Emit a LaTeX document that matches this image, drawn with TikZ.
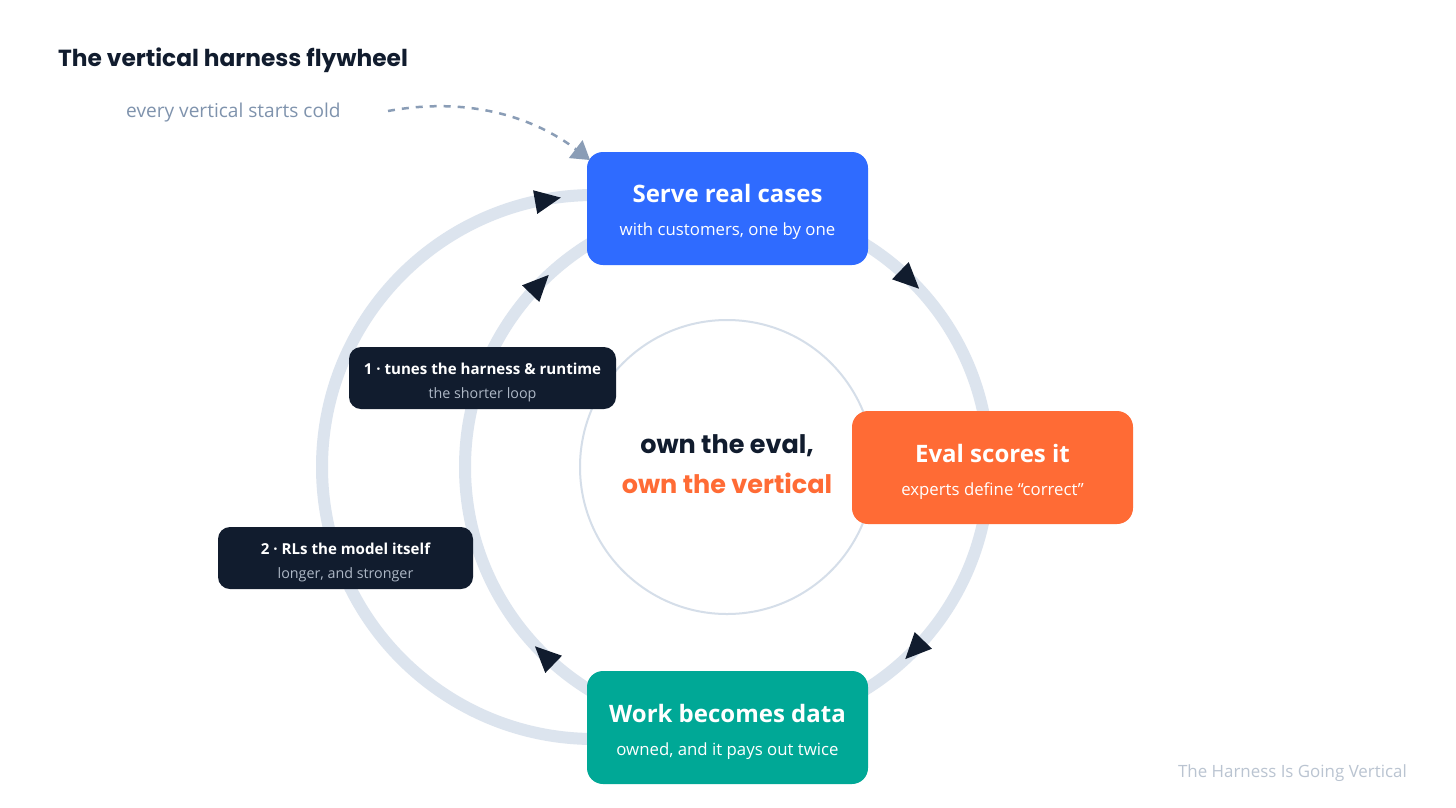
\documentclass[tikz,border=0pt]{standalone}
\usepackage{fontspec}
\setmainfont{Open Sans}
\newfontfamily\grot{Poppins}
\usetikzlibrary{arrows.meta}
\definecolor{navy}{HTML}{111C2E}
\definecolor{cblue}{HTML}{2F6BFF}
\definecolor{corange}{HTML}{FF6B35}
\definecolor{cteal}{HTML}{00A896}
\definecolor{ring}{HTML}{DCE4EE}
\definecolor{thinring}{HTML}{D5DEE9}
\definecolor{hint}{HTML}{7F93AD}
\definecolor{dashcol}{HTML}{8A9DB6}
\definecolor{foot}{HTML}{BAC4D1}
\definecolor{subdark}{HTML}{AEB8C6}
\tikzset{
  bigbox/.style={rounded corners=16pt, inner sep=0pt, minimum width=281pt, minimum height=113pt},
  darkbox/.style={rounded corners=12pt, fill=navy, inner sep=0pt, minimum height=62pt},
  txt/.style={inner sep=0pt},
  boxtitle/.style={txt, anchor=base, text=white, font=\fontsize{24}{28}\selectfont\bfseries},
  boxsub/.style={txt, anchor=base, text=white, font=\fontsize{16.8}{20}\selectfont},
  dtitle/.style={txt, anchor=base, text=white, font=\fontsize{15.1}{19}\selectfont\bfseries},
  dsub/.style={txt, anchor=base, text=subdark, font=\fontsize{14.3}{17}\selectfont},
  ringline/.style={draw=ring, line width=12pt},
  tri/.style={fill=navy}
}
\begin{document}
\begin{tikzpicture}[x=1pt,y=-1pt]
\useasboundingbox[fill=white] (0,0) rectangle (1456,807);

% rings
\draw[ringline] (594,195) arc[start angle=90, end angle=270, radius=272pt];
\draw[ringline] (727,467) circle[radius=262pt];
\draw[draw=thinring, line width=2pt] (727,467) circle[radius=147pt];

% arrowheads
\fill[tri, shift={(547,200)}, rotate=10] (14,0) -- (-12,-12) -- (-12,12) -- cycle;
\fill[tri, shift={(539,285)}, rotate=46] (14,0) -- (-12,-12) -- (-12,12) -- cycle;
\fill[tri, shift={(909,279)}, rotate=-44] (14,0) -- (-12,-12) -- (-12,12) -- cycle;
\fill[tri, shift={(915,649)}, rotate=-134] (14,0) -- (-12,-12) -- (-12,12) -- cycle;
\fill[tri, shift={(545,656)}, rotate=136] (14,0) -- (-12,-12) -- (-12,12) -- cycle;

% title
\node[txt, anchor=base west, text=navy, font=\grot\fontsize{23.3}{27}\selectfont\bfseries] (title) at (58,66) {The vertical harness flywheel};

% start hint
\node[txt, anchor=base west, text=hint, font=\fontsize{19.1}{22}\selectfont] (hint) at (126,117) {every vertical starts cold};
\coordinate (ds) at (388,111);

% big boxes
\node[bigbox, fill=cblue] (serve) at (727.5,208.5) {};
\node[boxtitle] (serveT) at (727.5,202) {Serve real cases};
\node[boxsub] (serveS) at (727.5,235) {with customers, one by one};

\node[bigbox, fill=corange] (eval) at (992.5,467.5) {};
\node[boxtitle] (evalT) at (992.5,462) {Eval scores it};
\node[boxsub] (evalS) at (992.5,495) {experts define “correct”};

\node[bigbox, fill=cteal] (work) at (727.5,727.5) {};
\node[boxtitle] (workT) at (727.5,722) {Work becomes data};
\node[boxsub] (workS) at (727.5,755) {owned, and it pays out twice};

% dashed entry arrow
\coordinate (de) at (590,160);
\draw[dashcol, line width=2.5pt, dash pattern=on 7pt off 7pt, -{Triangle[length=18pt,width=22pt]}]
  (ds) .. controls (470,96) and (535,118) .. (de);

% dark boxes
\node[darkbox, minimum width=267pt] (one) at (482.5,378) {};
\node[dtitle] (oneT) at (482.5,374) {1 · tunes the harness \& runtime};
\node[dsub] (oneS) at (482.5,398) {the shorter loop};

\node[darkbox, minimum width=255pt] (two) at (345.5,558) {};
\node[dtitle] (twoT) at (345.5,554) {2 · RLs the model itself};
\node[dsub] (twoS) at (345.5,578) {longer, and stronger};

% center text
\node[txt, anchor=base, text=navy, font=\grot\fontsize{25.5}{30}\selectfont\bfseries] (c1) at (727,453) {own the eval,};
\node[txt, anchor=base, text=corange, font=\grot\fontsize{25.5}{30}\selectfont\bfseries] (c2) at (727,493) {own the vertical};

% footer
\node[txt, anchor=base east, text=foot, font=\fontsize{16.9}{20}\selectfont] (footer) at (1407,777) {The Harness Is Going Vertical};
\end{tikzpicture}
\end{document}
